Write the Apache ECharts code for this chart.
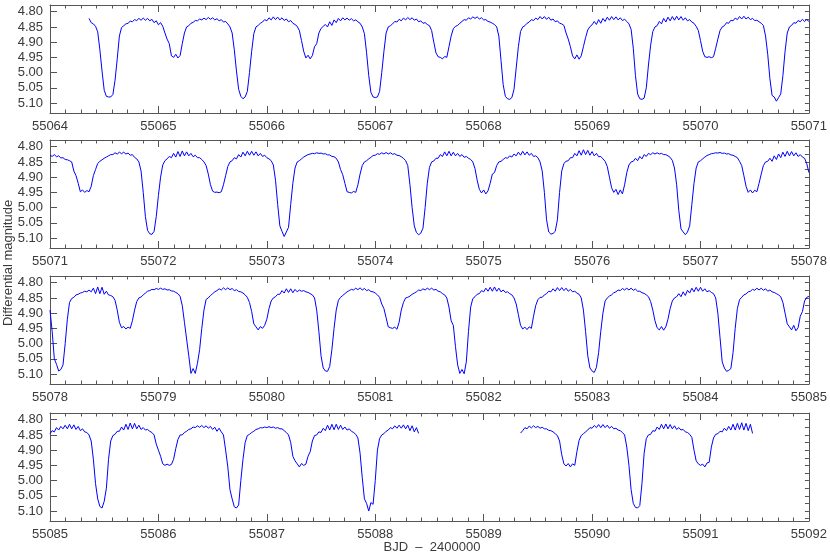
<!DOCTYPE html>
<html><head><meta charset="utf-8">
<script src="https://cdn.jsdelivr.net/npm/echarts@6/dist/echarts.min.js"></script>
<style>html,body{margin:0;padding:0;background:#fff}#c{width:830px;height:554px}</style>
</head><body><div id="c"></div>
<script>
// Cadence of the sampled light curve (days)
const step = 0.02;

// Panel ranges (BJD - 2400000)
const panelRanges = [[55064, 55071], [55071, 55078], [55078, 55085], [55085, 55092]];
const yTicks = [4.80, 4.85, 4.90, 4.95, 5.00, 5.05, 5.10];
const yMinorTicks = [4.80, 4.825, 4.85, 4.875, 4.90, 4.925, 4.95, 4.975, 5.00, 5.025, 5.05, 5.075, 5.10, 5.125];

// Panel 1: 55064.36 ... 55071.00
const p1Start = 55064.36;
const p1Mag = [
4.822, 4.836, 4.840,
4.848, 4.866, 4.925, 4.995, 5.058, 5.078, 5.080, 5.080, 5.072, 5.025, 4.955, 4.880, 4.852,
4.846, 4.840, 4.838, 4.831, 4.833, 4.826, 4.829, 4.822, 4.828, 4.821, 4.828, 4.822, 4.830, 4.825, 4.836, 4.830, 4.843, 4.836,
4.848, 4.870, 4.890, 4.905, 4.945, 4.950, 4.940, 4.952, 4.944, 4.905, 4.870, 4.850,
4.846, 4.838, 4.835, 4.829, 4.830, 4.824, 4.827, 4.821, 4.826, 4.819, 4.825, 4.820, 4.827, 4.823, 4.830, 4.826, 4.834, 4.832, 4.840,
4.850, 4.870, 4.925, 4.995, 5.055, 5.078, 5.086, 5.080, 5.062, 5.000, 4.930, 4.872, 4.850,
4.845, 4.838, 4.834, 4.826, 4.830, 4.820, 4.827, 4.817, 4.826, 4.818, 4.827, 4.820, 4.829, 4.824, 4.833, 4.829, 4.838, 4.842,
4.848, 4.862, 4.895, 4.930, 4.952, 4.943, 4.955, 4.944, 4.915, 4.905, 4.870, 4.855, 4.848,
4.842, 4.850, 4.833, 4.845, 4.827, 4.836, 4.822, 4.830, 4.820, 4.827, 4.821, 4.828, 4.823, 4.830, 4.827, 4.833, 4.838,
4.850, 4.872, 4.935, 5.010, 5.065, 5.080, 5.082, 5.080, 5.062, 5.000, 4.930, 4.870, 4.850,
4.846, 4.840, 4.832, 4.834, 4.825, 4.830, 4.821, 4.827, 4.819, 4.826, 4.820, 4.828, 4.824, 4.833, 4.830, 4.838, 4.836, 4.842,
4.846, 4.862, 4.900, 4.935, 4.948, 4.950, 4.955, 4.947, 4.950, 4.915, 4.880, 4.856, 4.848,
4.845, 4.838, 4.832, 4.826, 4.828, 4.820, 4.824, 4.817, 4.822, 4.817, 4.824, 4.820, 4.827, 4.826, 4.832, 4.834, 4.838, 4.842,
4.850, 4.880, 4.960, 5.040, 5.078, 5.086, 5.088, 5.082, 5.055, 4.985, 4.915, 4.865, 4.850,
4.846, 4.838, 4.834, 4.826, 4.829, 4.821, 4.826, 4.816, 4.824, 4.816, 4.825, 4.818, 4.828, 4.824, 4.833, 4.830, 4.838, 4.840,
4.845, 4.870, 4.890, 4.915, 4.945, 4.955, 4.942, 4.956, 4.945, 4.915, 4.885, 4.860, 4.849,
4.843, 4.832, 4.842, 4.826, 4.838, 4.822, 4.832, 4.818, 4.828, 4.816, 4.826, 4.817, 4.827, 4.820, 4.829, 4.825, 4.832,
4.840, 4.858, 4.920, 5.010, 5.070, 5.086, 5.088, 5.084, 5.050, 4.975, 4.910, 4.865, 4.850,
4.846, 4.832, 4.840, 4.822, 4.834, 4.818, 4.830, 4.816, 4.828, 4.815, 4.827, 4.816, 4.828, 4.820, 4.830, 4.826, 4.834, 4.838,
4.848, 4.862, 4.895, 4.930, 4.948, 4.950, 4.948, 4.951, 4.948, 4.920, 4.890, 4.862, 4.850,
4.846, 4.836, 4.838, 4.828, 4.830, 4.821, 4.826, 4.816, 4.824, 4.815, 4.824, 4.818, 4.826, 4.822, 4.829, 4.828, 4.833, 4.838,
4.845, 4.880, 4.940, 5.020, 5.075, 5.080, 5.094, 5.082, 5.070, 5.010, 4.930, 4.870, 4.850,
4.845, 4.836, 4.838, 4.829, 4.833, 4.825, 4.832, 4.826, 4.832
];

// Panel 2: 55071.00 ... 55078.00
const p2Start = 55071.00;
const p2Mag = [
4.828, 4.832, 4.826, 4.833, 4.830, 4.837, 4.836, 4.842, 4.843, 4.846,
4.850, 4.880, 4.895, 4.920, 4.948, 4.942, 4.950, 4.944, 4.948, 4.930, 4.895, 4.875, 4.855,
4.848, 4.843, 4.838, 4.834, 4.830, 4.826, 4.826, 4.820, 4.824, 4.818, 4.823, 4.818, 4.824, 4.821, 4.828, 4.826, 4.835, 4.840,
4.850, 4.880, 4.950, 5.030, 5.075, 5.086, 5.088, 5.078, 5.030, 4.960, 4.900, 4.860,
4.846, 4.840, 4.832, 4.836, 4.822, 4.834, 4.816, 4.832, 4.814, 4.830, 4.817, 4.830, 4.822, 4.833, 4.828, 4.836, 4.836, 4.842,
4.850, 4.862, 4.890, 4.925, 4.946, 4.950, 4.949, 4.951, 4.948, 4.925, 4.895, 4.865, 4.850,
4.846, 4.836, 4.840, 4.826, 4.834, 4.818, 4.830, 4.815, 4.828, 4.815, 4.828, 4.817, 4.830, 4.822, 4.832, 4.828, 4.836, 4.840,
4.846, 4.860, 4.910, 4.990, 5.060, 5.078, 5.095, 5.080, 5.065, 4.990, 4.920, 4.870, 4.850,
4.846, 4.840, 4.834, 4.830, 4.826, 4.824, 4.822, 4.823, 4.820, 4.822, 4.821, 4.824, 4.823, 4.827, 4.827, 4.832, 4.833, 4.838,
4.850, 4.875, 4.892, 4.920, 4.948, 4.950, 4.952, 4.947, 4.950, 4.925, 4.890, 4.862, 4.850,
4.846, 4.840, 4.835, 4.829, 4.828, 4.823, 4.825, 4.820, 4.824, 4.819, 4.824, 4.820, 4.825, 4.823, 4.828, 4.829, 4.833, 4.838,
4.846, 4.862, 4.925, 5.000, 5.060, 5.082, 5.089, 5.084, 5.068, 5.000, 4.920, 4.868, 4.850,
4.847, 4.838, 4.838, 4.826, 4.832, 4.817, 4.830, 4.815, 4.830, 4.818, 4.830, 4.822, 4.832, 4.826, 4.835, 4.832, 4.838, 4.842,
4.850, 4.872, 4.910, 4.940, 4.952, 4.942, 4.955, 4.945, 4.920, 4.890, 4.885, 4.862, 4.850,
4.848, 4.842, 4.836, 4.838, 4.830, 4.834, 4.824, 4.830, 4.818, 4.828, 4.815, 4.827, 4.817, 4.828, 4.822, 4.832, 4.830, 4.836,
4.850, 4.880, 4.950, 5.040, 5.080, 5.087, 5.085, 5.078, 5.040, 4.950, 4.880, 4.855, 4.848,
4.846, 4.836, 4.836, 4.822, 4.830, 4.813, 4.828, 4.810, 4.826, 4.812, 4.828, 4.816, 4.830, 4.822, 4.833, 4.832, 4.840,
4.848, 4.865, 4.900, 4.935, 4.950, 4.940, 4.957, 4.942, 4.955, 4.925, 4.885, 4.860, 4.850,
4.848, 4.838, 4.846, 4.832, 4.840, 4.826, 4.832, 4.822, 4.826, 4.820, 4.824, 4.820, 4.824, 4.822, 4.826, 4.826, 4.830, 4.835,
4.845, 4.870, 4.925, 5.010, 5.070, 5.080, 5.089, 5.080, 5.060, 4.990, 4.920, 4.870, 4.850,
4.846, 4.840, 4.834, 4.829, 4.826, 4.823, 4.822, 4.820, 4.821, 4.819, 4.822, 4.821, 4.824, 4.823, 4.827, 4.828, 4.832, 4.836,
4.848, 4.862, 4.895, 4.930, 4.950, 4.942, 4.952, 4.943, 4.948, 4.920, 4.890, 4.862, 4.850,
4.848, 4.838, 4.848, 4.830, 4.842, 4.824, 4.836, 4.818, 4.832, 4.815, 4.830, 4.816, 4.830, 4.820, 4.832, 4.826, 4.834, 4.838,
4.856, 4.885
];

// Panel 3: 55078.00 ... 55085.00
const p3Start = 55078.00;
const p3Mag = [
4.890, 4.960, 5.050, 5.068, 5.090, 5.085, 5.070, 5.000, 4.920, 4.865, 4.852,
4.848, 4.840, 4.838, 4.834, 4.832, 4.828, 4.830, 4.824, 4.830, 4.818, 4.836, 4.814, 4.836, 4.815, 4.838, 4.828, 4.840, 4.842,
4.846, 4.858, 4.890, 4.930, 4.948, 4.944, 4.952, 4.946, 4.950, 4.925, 4.890, 4.862, 4.850,
4.847, 4.840, 4.834, 4.828, 4.826, 4.822, 4.823, 4.819, 4.822, 4.818, 4.822, 4.820, 4.824, 4.823, 4.827, 4.828, 4.832, 4.836,
4.845, 4.875, 4.930, 4.985, 5.040, 5.098, 5.082, 5.098, 5.065, 5.020, 4.950, 4.890, 4.855,
4.850, 4.842, 4.836, 4.830, 4.826, 4.820, 4.824, 4.817, 4.823, 4.817, 4.823, 4.819, 4.826, 4.823, 4.829, 4.830, 4.834, 4.840,
4.848, 4.865, 4.895, 4.935, 4.945, 4.955, 4.944, 4.950, 4.940, 4.920, 4.885, 4.860, 4.850,
4.846, 4.838, 4.838, 4.826, 4.834, 4.820, 4.832, 4.820, 4.833, 4.822, 4.830, 4.824, 4.828, 4.826, 4.830, 4.832, 4.836, 4.840,
4.850, 4.890, 4.960, 5.040, 5.080, 5.090, 5.091, 5.075, 5.020, 4.950, 4.890, 4.858,
4.848, 4.842, 4.836, 4.830, 4.826, 4.822, 4.824, 4.818, 4.823, 4.817, 4.824, 4.819, 4.826, 4.823, 4.829, 4.830, 4.834, 4.840,
4.848, 4.870, 4.885, 4.915, 4.945, 4.948, 4.950, 4.946, 4.953, 4.930, 4.890, 4.865, 4.850,
4.848, 4.844, 4.838, 4.834, 4.830, 4.824, 4.826, 4.820, 4.824, 4.818, 4.823, 4.818, 4.824, 4.822, 4.828, 4.830, 4.836, 4.840,
4.850, 4.880, 4.925, 4.940, 5.010, 5.070, 5.098, 5.085, 5.099, 5.060, 4.960, 4.880, 4.852,
4.846, 4.838, 4.836, 4.826, 4.830, 4.818, 4.828, 4.815, 4.828, 4.814, 4.828, 4.818, 4.830, 4.824, 4.832, 4.830, 4.836, 4.840,
4.850, 4.870, 4.905, 4.940, 4.952, 4.946, 4.954, 4.945, 4.950, 4.910, 4.875, 4.856, 4.848,
4.848, 4.840, 4.836, 4.828, 4.830, 4.820, 4.828, 4.816, 4.826, 4.816, 4.826, 4.818, 4.828, 4.822, 4.830, 4.828, 4.834, 4.838,
4.850, 4.890, 4.960, 5.040, 5.080, 5.090, 5.095, 5.078, 5.030, 4.960, 4.900, 4.860,
4.850, 4.844, 4.840, 4.833, 4.830, 4.824, 4.826, 4.819, 4.824, 4.818, 4.824, 4.818, 4.825, 4.821, 4.828, 4.828, 4.833, 4.835, 4.840,
4.846, 4.862, 4.890, 4.925, 4.948, 4.955, 4.944, 4.956, 4.945, 4.920, 4.885, 4.860, 4.850,
4.846, 4.836, 4.846, 4.830, 4.842, 4.825, 4.834, 4.818, 4.830, 4.815, 4.828, 4.815, 4.828, 4.820, 4.830, 4.826, 4.832, 4.836,
4.850, 4.900, 4.980, 5.060, 5.080, 5.091, 5.088, 5.082, 5.030, 4.950, 4.885, 4.856,
4.848, 4.840, 4.837, 4.830, 4.828, 4.822, 4.825, 4.818, 4.824, 4.818, 4.825, 4.820, 4.828, 4.824, 4.830, 4.832, 4.836, 4.840,
4.846, 4.865, 4.900, 4.935, 4.945, 4.955, 4.940, 4.958, 4.948, 4.910, 4.895, 4.860, 4.848,
4.845
];

// Panel 4, first block: 55085.00 ... 55088.40
const p4aStart = 55085.00;
const p4aMag = [
4.846, 4.836, 4.840, 4.826, 4.834, 4.822, 4.830, 4.818, 4.830, 4.815, 4.830, 4.817, 4.832, 4.822, 4.836, 4.830, 4.840, 4.842,
4.850, 4.870, 4.930, 5.010, 5.060, 5.085, 5.090, 5.068, 5.025, 4.930, 4.870, 4.852,
4.848, 4.838, 4.838, 4.824, 4.834, 4.815, 4.832, 4.811, 4.830, 4.812, 4.830, 4.818, 4.832, 4.826, 4.834, 4.832, 4.838, 4.842,
4.850, 4.880, 4.900, 4.920, 4.945, 4.950, 4.946, 4.950, 4.947, 4.930, 4.895, 4.865, 4.850,
4.850, 4.842, 4.838, 4.832, 4.830, 4.824, 4.826, 4.820, 4.825, 4.819, 4.826, 4.820, 4.828, 4.822, 4.832, 4.825, 4.838, 4.828, 4.840,
4.850, 4.900, 4.955, 5.030, 5.060, 5.086, 5.090, 5.080, 5.000, 4.930, 4.875, 4.852,
4.848, 4.842, 4.838, 4.832, 4.830, 4.826, 4.827, 4.824, 4.826, 4.823, 4.826, 4.824, 4.828, 4.826, 4.830, 4.830, 4.836, 4.842,
4.850, 4.875, 4.920, 4.935, 4.945, 4.955, 4.944, 4.950, 4.946, 4.920, 4.905, 4.870, 4.852,
4.850, 4.840, 4.842, 4.828, 4.836, 4.818, 4.834, 4.815, 4.833, 4.815, 4.832, 4.818, 4.832, 4.824, 4.834, 4.830, 4.838, 4.842,
4.848, 4.860, 4.910, 4.990, 5.060, 5.075, 5.100, 5.072, 5.078, 5.000, 4.900, 4.862, 4.850,
4.846, 4.838, 4.834, 4.826, 4.830, 4.820, 4.828, 4.818, 4.828, 4.817, 4.830, 4.818, 4.836, 4.820, 4.840, 4.826, 4.845
];

// Panel 4, second block: 55089.34 ... 55091.48
const p4bStart = 55089.34;
const p4bMag = [
4.844, 4.836, 4.826, 4.830, 4.821, 4.827, 4.820, 4.826, 4.822, 4.828, 4.825, 4.830, 4.830, 4.835, 4.836, 4.840, 4.846,
4.852, 4.870, 4.915, 4.945, 4.952, 4.944, 4.955, 4.945, 4.950, 4.905, 4.868, 4.852,
4.846, 4.840, 4.834, 4.826, 4.828, 4.819, 4.826, 4.816, 4.826, 4.816, 4.826, 4.818, 4.828, 4.822, 4.830, 4.828, 4.834, 4.836, 4.842,
4.850, 4.890, 4.950, 5.030, 5.075, 5.088, 5.090, 5.082, 5.010, 4.910, 4.862, 4.850,
4.848, 4.836, 4.838, 4.824, 4.832, 4.815, 4.830, 4.814, 4.830, 4.816, 4.830, 4.820, 4.832, 4.826, 4.834, 4.832, 4.840, 4.842, 4.848,
4.858, 4.900, 4.935, 4.945, 4.950, 4.946, 4.955, 4.942, 4.940, 4.890, 4.860, 4.848,
4.846, 4.838, 4.840, 4.828, 4.836, 4.822, 4.834, 4.815, 4.834, 4.812, 4.832, 4.810, 4.834, 4.812, 4.836, 4.815, 4.845
];

function toPoints(start, mags) {
  return mags.map((m, i) => [Math.round((start + i * step) * 100) / 100, m]);
}

const chart = echarts.init(document.getElementById('c'), null, { renderer: 'canvas' });
const tops = [5, 140, 276, 413];
const axisColor = '#555555';
const labelColor = '#3a3a3a';
const fontFam = 'Liberation Sans, Arial, sans-serif';

const grids = tops.map(t => ({ left: 50, right: 16, top: t, height: 108 }));
const xAxes = [];
const yAxes = [];
panelRanges.forEach((r, i) => {
  ['bottom', 'top'].forEach(pos => {
    xAxes.push({
      gridIndex: i, type: 'value', position: pos, min: r[0], max: r[1], interval: 1,
      axisLine: { show: true, onZero: false, lineStyle: { color: axisColor, width: 1 } },
      axisTick: { show: true, inside: true, length: 7, lineStyle: { color: axisColor } },
      minorTick: { show: true, splitNumber: 7, length: 3.5, lineStyle: { color: axisColor } },
      axisLabel: {
        show: pos === 'bottom', margin: 7, fontSize: 13, color: labelColor, fontFamily: fontFam,
        showMinLabel: true, showMaxLabel: true, hideOverlap: false,
        formatter: v => String(Math.round(v))
      },
      splitLine: { show: false }, minorSplitLine: { show: false }
    });
  });
  yAxes.push({
    gridIndex: i, type: 'value', position: 'left', inverse: true, min: 4.778, max: 5.1327,
    axisLine: { show: true, onZero: false, lineStyle: { color: axisColor, width: 1 } },
    axisTick: { show: true, inside: true, length: 7, customValues: yTicks, lineStyle: { color: axisColor } },
    axisLabel: {
      show: true, customValues: yTicks, margin: 7, fontSize: 13, color: labelColor, fontFamily: fontFam,
      formatter: v => Number(v).toFixed(2)
    },
    splitLine: { show: false }
  });
  yAxes.push({
    gridIndex: i, type: 'value', position: 'right', inverse: true, min: 4.778, max: 5.1327,
    axisLine: { show: true, onZero: false, lineStyle: { color: axisColor, width: 1 } },
    axisTick: { show: true, inside: true, length: 4, customValues: yMinorTicks, lineStyle: { color: axisColor } },
    axisLabel: { show: false },
    splitLine: { show: false }
  });
});

const lineStyle = { color: '#0000ff', width: 1 };
const mk = (panel, start, mags) => ({
  type: 'line', xAxisIndex: panel * 2, yAxisIndex: panel * 2,
  data: toPoints(start, mags), showSymbol: false, symbol: 'none',
  lineStyle, animation: false, silent: true, clip: true
});

const warn = [];
[['p1', p1Mag, 333], ['p2', p2Mag, 351], ['p3', p3Mag, 351], ['p4a', p4aMag, 171], ['p4b', p4bMag, 108]].forEach(([n, a, e]) => {
  if (a.length !== e) warn.push(n + ':' + a.length + '/' + e);
});

chart.setOption({
  animation: false,
  backgroundColor: '#ffffff',
  grid: grids,
  xAxis: xAxes,
  yAxis: yAxes,
  series: [
    mk(0, p1Start, p1Mag),
    mk(1, p2Start, p2Mag),
    mk(2, p3Start, p3Mag),
    mk(3, p4aStart, p4aMag),
    mk(3, p4bStart, p4bMag)
  ],
  graphic: [
    { type: 'text', x: 8, y: 263, rotation: Math.PI / 2,
      style: { text: 'Differential magnitude', fill: labelColor, font: '13px ' + fontFam,
               align: 'center', verticalAlign: 'middle', textAlign: 'center', textVerticalAlign: 'middle' } },
    { type: 'text', x: 432, y: 547,
      style: { text: 'BJD  \u2013  2400000', fill: labelColor, font: '13px ' + fontFam,
               align: 'center', verticalAlign: 'middle', textAlign: 'center', textVerticalAlign: 'middle' } },
    { type: 'text', x: 300, y: 270, style: { text: warn.join(' '), fill: '#ff0000', font: '14px sans-serif' } }
  ]
});
</script></body></html>
